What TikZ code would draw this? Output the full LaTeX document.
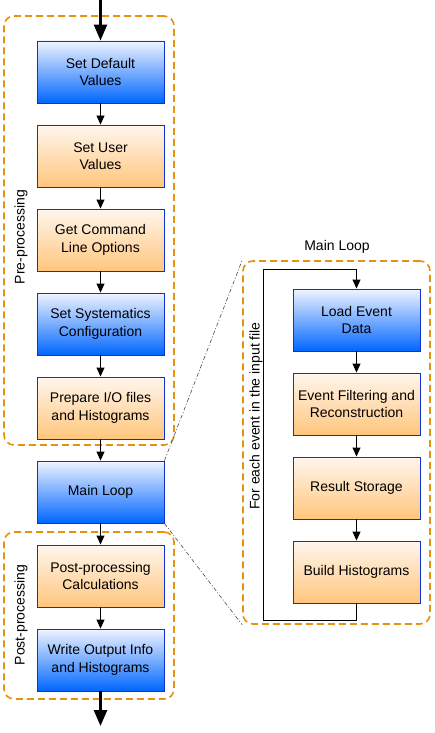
\documentclass[tikz,border=0pt]{standalone}
\usepackage{fontspec}
\setmainfont{Liberation Sans}
\usetikzlibrary{arrows.meta,calc}
\definecolor{boxblue}{HTML}{1030D0}
\definecolor{bluetop}{HTML}{F0F4FF}
\definecolor{bluebot}{HTML}{0066FF}
\definecolor{ortop}{HTML}{FFF6EE}
\definecolor{orbot}{HTML}{FFC67C}
\definecolor{grouporange}{HTML}{E6920C}
\tikzset{
  box/.style={draw=boxblue, line width=0.9pt, minimum width=127pt, minimum height=62pt,
    align=center, inner sep=0pt, font=\fontsize{14}{17.5}\selectfont},
  bluebox/.style={box, top color=bluetop, bottom color=bluebot},
  orangebox/.style={box, top color=ortop, bottom color=orbot},
  group/.style={draw=grouporange, line width=1.6pt, dash pattern=on 7pt off 4pt,
    rounded corners=10pt, inner sep=0pt},
  arr/.style={line width=0.9pt, -{Triangle[width=8pt,length=9pt]}},
  bigarr/.style={line width=2.6pt, -{Triangle[width=13pt,length=16pt]}},
  zoomline/.style={line width=0.6pt, black!70, dash pattern=on 4pt off 2pt on 1pt off 2pt},
  lbl/.style={font=\fontsize{14}{17}\selectfont, inner sep=0pt}
}
\begin{document}
\begin{tikzpicture}[x=1pt,y=-1pt]
\useasboundingbox (0,0) rectangle (434,733);
% groups
\node[group, minimum width=170pt, minimum height=429pt] (pre) at (89,230.5) {};
\node[group, minimum width=170pt, minimum height=167pt] (post) at (89,615.5) {};
\node[group, minimum width=187pt, minimum height=363pt] (ml) at (336.5,442.5) {};
\node[lbl, rotate=90] (prelbl) at (21,237) {Pre-processing};
\node[lbl, rotate=90] (postlbl) at (21,615) {Post-processing};
\node[lbl] (mltitle) at (337,247) {Main Loop};
\node[lbl, rotate=90] (looplbl) at (256,416) {For each event in the input file};
% left column
\node[bluebox] (b1) at (100.5,72) {Set Default\\Values};
\node[orangebox] (b2) at (100.5,156) {Set User\\Values};
\node[orangebox] (b3) at (100.5,240) {Get Command\\Line Options};
\node[bluebox] (b4) at (100.5,324) {Set Systematics\\Configuration};
\node[orangebox] (b5) at (100.5,408) {Prepare I/O files\\and Histograms};
\node[bluebox] (b6) at (100.5,492) {Main Loop};
\node[orangebox] (b7) at (100.5,576) {Post-processing\\Calculations};
\node[bluebox] (b8) at (100.5,660) {Write Output Info\\and Histograms};
% right column
\node[bluebox] (r1) at (356.5,320) {Load Event\\Data};
\node[orangebox] (r2) at (356.5,404) {Event Filtering and\\Reconstruction};
\node[orangebox] (r3) at (356.5,488) {Result Storage};
\node[orangebox] (r4) at (356.5,572) {Build Histograms};
% arrows
\coordinate (top) at (100.5,0);
\coordinate (bot) at (100.5,726);
\draw[bigarr] (top) -- (b1.north);
\draw[bigarr] (b8.south) -- (bot);
\foreach \a/\b in {b1/b2,b2/b3,b3/b4,b4/b5,b5/b6,b6/b7,b7/b8,r1/r2,r2/r3,r3/r4}
  \draw[arr] (\a.south) -- (\b.north);
% loop
\coordinate (lb) at (263.5,620);
\coordinate (lt) at (263.5,269);
\draw[arr] (r4.south) -- (r4.south |- lb) -- (lb) -- (lt) -- (lt -| r1.north) -- (r1.north);
% zoom lines
\draw[zoomline] (b6.north east) -- (ml.north west);
\draw[zoomline] (b6.south east) -- (ml.south west);
\end{tikzpicture}
\end{document}
